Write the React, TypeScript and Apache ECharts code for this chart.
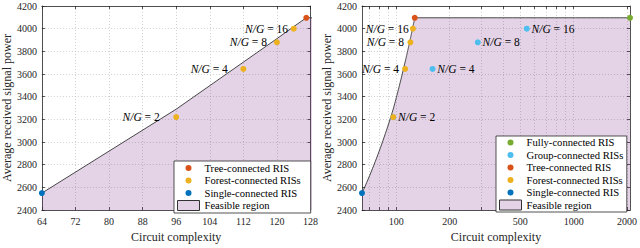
import React, { useEffect, useRef } from "react";
import * as echarts from "echarts";

// ---- data ----
const leftXMin = 64;
const leftXMax = 128;
const leftXInterval = 8;
const yMin = 2400;
const yMax = 4200;
const yInterval = 200;
const rightXMin = 64;
const rightXMax = 2080;
const logLabelTicks = [100, 200, 500, 1000, 2000];
const logMinorTicks = [70, 80, 90, 300, 400, 600, 700, 800, 900];

const singleX = [64];
const singleY = [2550];
const forestX = [96, 112, 120, 124];
const forestY = [3220, 3645, 3880, 4000];
const treeX = [127];
const treeY = [4096];
const groupX = [96, 160, 288, 544];
const groupY = [3220, 3645, 3880, 4000];
const fullyX = [2080];
const fullyY = [4096];
const ratios = [2, 4, 8, 16];
const boundaryX = [64, 96, 112, 120, 124, 127, 2080];
const boundaryY = [2550, 3290, 3705, 3912, 4018, 4096, 4096];

const NAMES = {
  fully: "Fully-connected RIS",
  group: "Group-connected RISs",
  tree: "Tree-connected RIS",
  forest: "Forest-connected RISs",
  single: "Single-connected RIS",
  feasible: "Feasible region",
};

// ---- styles ----
const FONT = "Liberation Serif";
const AX = "#262626";
const C_SINGLE = "#0072BD";
const C_FOREST = "#EDB120";
const C_TREE = "#D95319";
const C_GROUP = "#4DBEEE";
const C_FULLY = "#77AC30";
const FILL = "rgba(126,47,142,0.21)";
const DOT = "path://M0,0M22,10M8,5a3,3 0 1 0 6,0a3,3 0 1 0 -6,0z";

const lg = (v: number) => Math.log10(v);
const pairs = (xs: number[], ys: number[], f = (v: number) => v) => xs.map((x, i) => [f(x), ys[i]]);

function logCurve(xs: number[], ys: number[], steps: number) {
  const pts: number[][] = [];
  for (let i = 0; i < xs.length - 1; i++) {
    for (let k = 0; k < steps; k++) {
      const t = k / steps;
      pts.push([lg(xs[i] + (xs[i + 1] - xs[i]) * t), ys[i] + (ys[i + 1] - ys[i]) * t]);
    }
  }
  pts.push([lg(xs[xs.length - 1]), ys[ys.length - 1]]);
  return pts;
}

const labelRich = {
  i: { fontStyle: "italic", fontFamily: FONT, fontSize: 11.5, color: "#000" },
};
const ngFormatter = (p: any) => `{i|N/G} = ${ratios[p.dataIndex]}`;

const splitLine = { show: true, lineStyle: { color: "#bdbdbd", type: [1, 2], width: 0.7 } };
const axisLine = { show: true, onZero: false, lineStyle: { color: AX, width: 0.8 } };
const axisTick = (extra: any = {}) => ({ show: true, inside: true, length: 3, lineStyle: { color: AX, width: 0.8 }, ...extra });
const axisLabelBase = { color: AX, fontFamily: FONT, fontSize: 10, formatter: (v: number) => String(v) };
const nameStyle = { color: AX, fontFamily: FONT, fontSize: 12 };

function legendData(names: string[]) {
  return names.map((n) =>
    n === NAMES.feasible
      ? { name: n, icon: "rect", itemStyle: { color: FILL, borderColor: "#333", borderWidth: 1 } }
      : { name: n, icon: DOT }
  );
}

export default function App() {
  const ref = useRef<HTMLDivElement>(null);
  useEffect(() => {
    if (!ref.current) return;
    const chart = echarts.init(ref.current, undefined, { renderer: "svg" });
    const rightTicks = [...logMinorTicks, ...logLabelTicks].sort((a, b) => a - b).map(lg);

    const scatter = (name: string, color: string, data: any[], xi: number, extra: any = {}) => ({
      type: "scatter",
      name,
      xAxisIndex: xi,
      yAxisIndex: xi,
      data,
      symbol: "circle",
      symbolSize: 6,
      clip: false,
      itemStyle: { color, opacity: 1 },
      z: 4,
      ...extra,
    });

    const ngLabel = (position: string) => ({
      show: true,
      position,
      formatter: ngFormatter,
      rich: labelRich,
      fontFamily: FONT,
      fontSize: 11.5,
      color: "#000",
    });

    const leftForestDist = [13.5, 12.5, 7, 2.7];
    const rightForestDist = [0, 3, 3.4, 1.2];

    const option: any = {
      animation: false,
      textStyle: { fontFamily: FONT },
      grid: [
        { left: 39, top: 6, width: 271.5, height: 212.7, containLabel: false },
        { left: 362, top: 6, width: 272, height: 212.7, containLabel: false },
      ],
      xAxis: [
        {
          gridIndex: 0, type: "value", position: "bottom", min: leftXMin, max: leftXMax, interval: leftXInterval,
          axisLine, axisTick: axisTick(), splitLine,
          axisLabel: { ...axisLabelBase, margin: 6 },
          name: "Circuit complexity", nameLocation: "middle", nameGap: 19, nameTextStyle: nameStyle,
        },
        {
          gridIndex: 0, type: "value", position: "top", min: leftXMin, max: leftXMax, interval: leftXInterval,
          axisLine, axisTick: axisTick(), splitLine: { show: false }, axisLabel: { show: false },
        },
        {
          gridIndex: 1, type: "value", position: "bottom", min: lg(rightXMin), max: lg(rightXMax),
          axisLine, axisTick: axisTick({ customValues: rightTicks }), splitLine,
          axisLabel: {
            ...axisLabelBase, margin: 6,
            customValues: logLabelTicks.map(lg),
            formatter: (v: number) => String(Math.round(Math.pow(10, v))),
          },
          name: "Circuit complexity", nameLocation: "middle", nameGap: 19, nameTextStyle: nameStyle,
        },
        {
          gridIndex: 1, type: "value", position: "top", min: lg(rightXMin), max: lg(rightXMax),
          axisLine, axisTick: axisTick({ customValues: rightTicks }), splitLine: { show: false },
          axisLabel: { show: false, customValues: logLabelTicks.map(lg) },
        },
      ],
      yAxis: [0, 1].flatMap((g) => [
        {
          gridIndex: g, type: "value", position: "left", min: yMin, max: yMax, interval: yInterval,
          axisLine, axisTick: axisTick(), splitLine,
          axisLabel: { ...axisLabelBase, margin: 5 },
          name: "Average received signal power", nameLocation: "middle", nameGap: 26, nameTextStyle: nameStyle,
        },
        {
          gridIndex: g, type: "value", position: "right", min: yMin, max: yMax, interval: yInterval,
          axisLine, axisTick: axisTick(), splitLine: { show: false }, axisLabel: { show: false },
        },
      ]),
      legend: [
        {
          orient: "vertical", left: 174, top: 161,
          data: legendData([NAMES.tree, NAMES.forest, NAMES.single, NAMES.feasible]),
          itemWidth: 22, itemHeight: 10, itemGap: 1.5,
          padding: [1.5, 10, 2, 3],
          backgroundColor: "#fff", borderColor: AX, borderWidth: 0.8, borderRadius: 0,
          textStyle: { fontFamily: FONT, fontSize: 10.6, color: "#000", lineHeight: 11 },
          selectedMode: false, z: 10,
        },
        {
          orient: "vertical", left: 496, top: 136,
          data: legendData([NAMES.fully, NAMES.group, NAMES.tree, NAMES.forest, NAMES.single, NAMES.feasible]),
          itemWidth: 22, itemHeight: 10, itemGap: 1.5,
          padding: [1, 3.5, 1.5, 3],
          backgroundColor: "#fff", borderColor: AX, borderWidth: 0.8, borderRadius: 0,
          textStyle: { fontFamily: FONT, fontSize: 10.6, color: "#000", lineHeight: 11 },
          selectedMode: false, z: 10,
        },
      ],
      series: [
        // ---- left chart ----
        {
          type: "line", name: NAMES.feasible, xAxisIndex: 0, yAxisIndex: 0,
          data: pairs(boundaryX, boundaryY), showSymbol: false, symbol: "none",
          lineStyle: { color: "#333", width: 0.9 }, itemStyle: { color: FILL },
          areaStyle: { color: FILL, origin: "start", opacity: 1 }, z: 1, clip: true,
        },
        scatter(NAMES.single, C_SINGLE, pairs(singleX, singleY), 0),
        scatter(
          NAMES.forest, C_FOREST,
          pairs(forestX, forestY).map((v, i) => ({ value: v, label: { distance: leftForestDist[i] } })),
          0, { label: ngLabel("left") }
        ),
        scatter(NAMES.tree, C_TREE, pairs(treeX, treeY), 0),
        // ---- right chart ----
        {
          type: "line", name: NAMES.feasible, xAxisIndex: 2, yAxisIndex: 2,
          data: logCurve(boundaryX, boundaryY, 24), showSymbol: false, symbol: "none",
          lineStyle: { color: "#333", width: 0.9 }, itemStyle: { color: FILL },
          areaStyle: { color: FILL, origin: "start", opacity: 1 }, z: 1, clip: true,
        },
        scatter(NAMES.single, C_SINGLE, pairs(singleX, singleY, lg), 2),
        scatter(
          NAMES.group, C_GROUP,
          pairs(groupX, groupY, lg).map((v) => ({ value: v, label: { distance: 1.8 } })),
          2, { label: ngLabel("right") }
        ),
        scatter(
          NAMES.forest, C_FOREST,
          pairs(forestX, forestY, lg).map((v, i) => ({
            value: v,
            label: { distance: rightForestDist[i], show: i > 0 },
          })),
          2, { label: ngLabel("left"), z: 5 }
        ),
        scatter(NAMES.tree, C_TREE, pairs(treeX, treeY, lg), 2),
        scatter(NAMES.fully, C_FULLY, pairs(fullyX, fullyY, lg), 2),
      ],
    };
    chart.setOption(option);
    return () => chart.dispose();
  }, []);

  return (
    <div
      ref={ref}
      style={{ position: "fixed", left: 0, top: 0, width: 640, height: 248, background: "#fff" }}
    />
  );
}
